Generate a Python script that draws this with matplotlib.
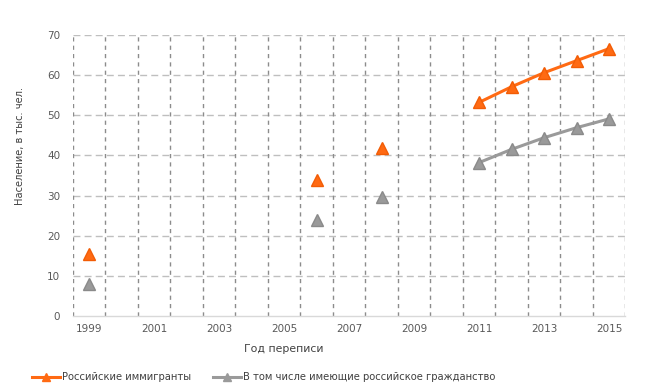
import numpy as np
import matplotlib
matplotlib.use("Agg")
import matplotlib.pyplot as plt
from matplotlib.lines import Line2D

years = list(range(1999, 2016))
immigrants = [15.5, np.nan, np.nan, np.nan, np.nan, np.nan, np.nan, 33.9, np.nan, 41.8,
              np.nan, np.nan, 53.2, 57.1, 60.6, 63.6, 66.6]
citizens = [8.0, np.nan, np.nan, np.nan, np.nan, np.nan, np.nan, 23.9, np.nan, 29.6,
            np.nan, np.nan, 38.2, 41.5, 44.4, 46.9, 49.1]
label_imm = "Российские иммигранты"
label_cit = "В том числе имеющие российское гражданство"

orange = "#FF6A13"
gray = "#9A9A9A"
txt = "#595959"

plt.rcParams['font.family'] = ['DejaVu Sans']
fig = plt.figure(figsize=(6.5, 3.89), dpi=100)
ax = fig.add_axes([0.112, 0.188, 0.850, 0.722])

x = np.arange(len(years))
ax.plot(x, immigrants, color=orange, lw=2.2, marker='^', ms=9, mfc=orange, mec="#F25C05", zorder=3)
ax.plot(x, citizens, color=gray, lw=2.2, marker='^', ms=9, mfc=gray, mec="#8A8A8A", zorder=3)

ax.set_xlim(-0.5, len(years) - 0.5)
ax.set_ylim(0, 70)
ax.set_yticks(range(0, 71, 10))
ax.set_xticks(x[::2])
ax.set_xticklabels([str(y) for y in years[::2]])
ax.tick_params(axis='x', which='both', length=0, colors=txt, labelsize=7.5, pad=6)
ax.tick_params(axis='y', length=0, colors=txt, labelsize=7.5, pad=9)

for v in range(10, 71, 10):
    ax.axhline(v, color="#BFBFBF", lw=1, ls=(0, (5, 3)), zorder=1)
for b in np.arange(-0.5, len(years), 1):
    ax.axvline(b, color="#8C8C8C", lw=1, ls=(0, (3, 3)), zorder=1)

for s in ['top', 'right', 'left']:
    ax.spines[s].set_visible(False)
ax.spines['bottom'].set_color("#D9D9D9")
ax.spines['bottom'].set_linewidth(1)

fig.text(284 / 650, 1 - 349 / 389, "Год переписи", fontsize=7.8, color="#404040",
         ha='center', va='center')
fig.text(20 / 650, 1 - 146 / 389, "Население, в тыс. чел.", fontsize=7.1, color="#404040",
         ha='center', va='center', rotation=90)

handles = [Line2D([], [], color=orange, lw=2.2, marker='^', ms=6, mfc=orange, mec=orange),
           Line2D([], [], color=gray, lw=2.2, marker='^', ms=6, mfc=gray, mec=gray)]
fig.legend(handles, [label_imm, label_cit], loc='center', bbox_to_anchor=(264 / 650, 1 - 377 / 389),
           ncol=2, frameon=False, fontsize=7.2, labelcolor="#404040", handlelength=2.8,
           handletextpad=0.2, columnspacing=2.2)

fig.savefig("out.png", dpi=100)
